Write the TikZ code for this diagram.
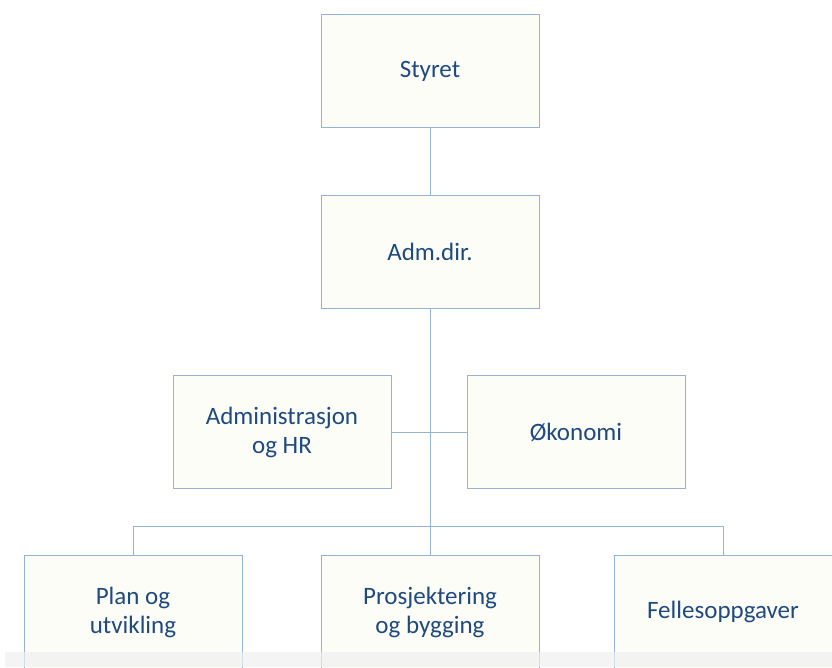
\documentclass[tikz,border=0pt]{standalone}
\usepackage{fontspec}
\setmainfont{Carlito}
\usepackage{tikz}
\usetikzlibrary{positioning, calc}
\definecolor{ocLine}{HTML}{95B3D7}
\definecolor{ocText}{HTML}{1F4A80}
\definecolor{ocFill}{HTML}{FDFDF8}
\definecolor{ocBand}{HTML}{F0F0F0}

\begin{document}
\begin{tikzpicture}[
  x=1pt, y=-1pt,
  box/.style={draw=ocLine, line width=1pt, fill=ocFill, align=center,
              text=ocText, font=\fontsize{25}{29}\selectfont,
              minimum width=218pt, minimum height=113pt, inner sep=2pt},
  link/.style={ocLine, line width=1pt}
]
  \useasboundingbox (0,0) rectangle (832,667);
  \node[box] (styret) at (430,71) {Styret};
  \node[box] (adm) at (430,252) {Adm.dir.};
  \node[box] (admhr) at (282,432) {Administrasjon\\og HR};
  \node[box] (okon) at (576,432) {Økonomi};
  \node[box] (plan) at (133,612) {Plan og\\utvikling};
  \node[box] (prosj) at (430,612) {Prosjektering\\og bygging};
  \node[box] (felles) at (723,612) {Fellesoppgaver};
  \coordinate (bus) at (430,526);

  \draw[link] (styret)--(adm);
  \draw[link] (adm)--(prosj);
  \draw[link] (admhr)--(okon);
  \draw[link] (bus) -| (plan.north);
  \draw[link] (bus) -| (felles.north);

  % grey strip at the bottom edge
  \fill[ocBand, opacity=0.7] (5,652) rectangle (832,667);
\end{tikzpicture}
\end{document}
